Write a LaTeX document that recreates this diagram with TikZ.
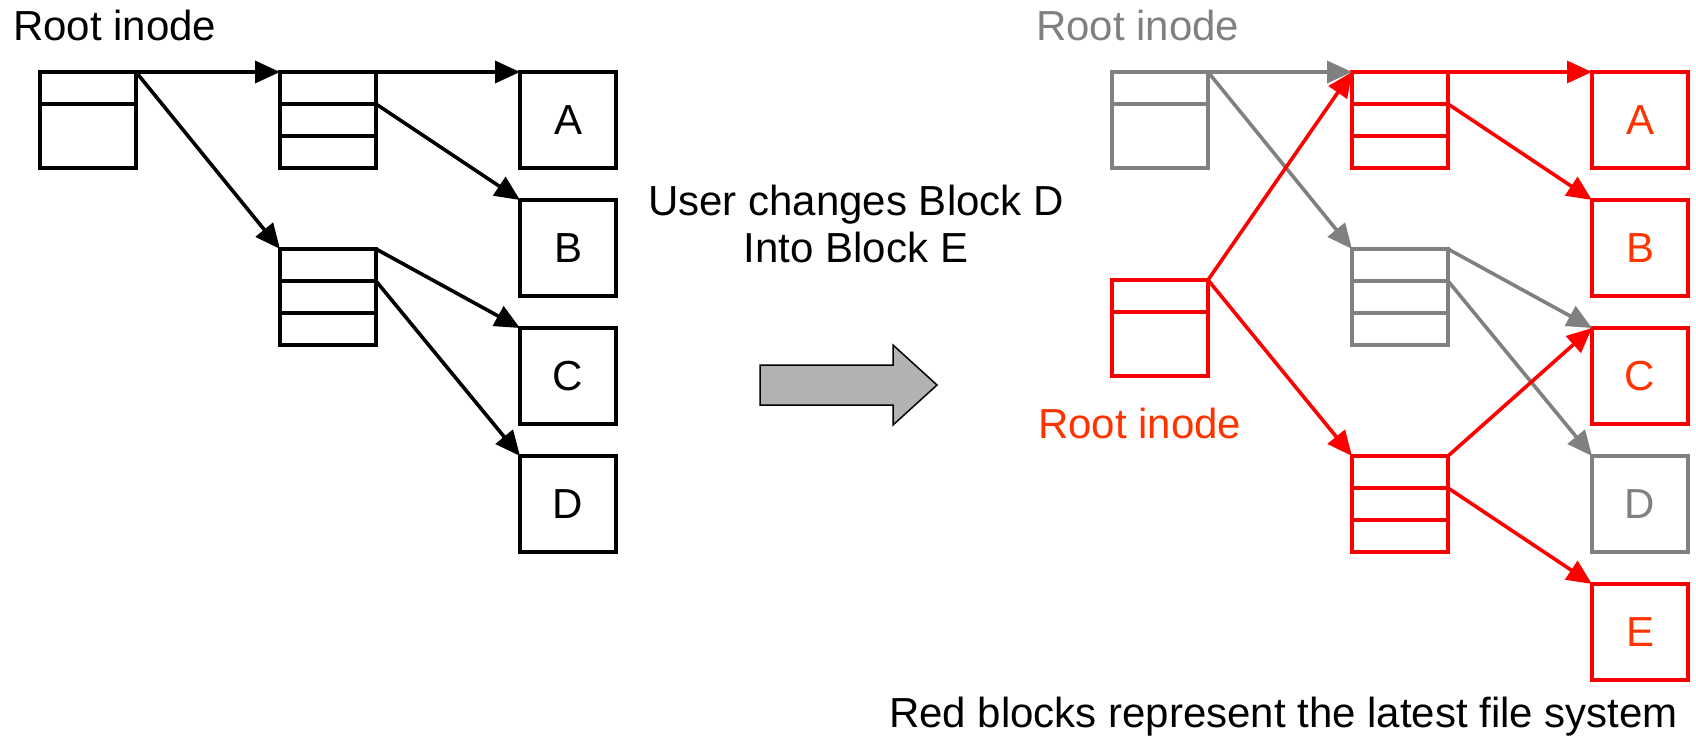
\documentclass[tikz,border=0pt]{standalone}
\usepackage{fontspec}
\setmainfont{Liberation Sans}
\usetikzlibrary{arrows.meta}
\definecolor{fsgray}{HTML}{808080}
\definecolor{fsred}{HTML}{FF0000}
\definecolor{fstext}{HTML}{FF3300}
\definecolor{fsarrow}{HTML}{B2B2B2}
\begin{document}
\begin{tikzpicture}[x=1pt,y=-1pt,
  lbl/.style={font=\fontsize{42}{47}\selectfont, inner sep=0pt, outer sep=0pt},
  box/.style={draw, line width=3.8pt, minimum width=96pt, minimum height=96pt,
    inner sep=0pt, outer sep=0pt, anchor=north west, font=\fontsize{42}{47}\selectfont},
  link/.style={line width=3.6pt, -{Triangle[length=25pt,width=22pt]}},
  divider/.style={line width=3.8pt},
  old/.style={draw=fsgray, text=fsgray},
  new/.style={draw=fsred, text=fstext},
]
\useasboundingbox (0,0) rectangle (1696,736);

% ---------- left: before ----------
\node[lbl, anchor=base west] (lroot) at (13,40) {Root inode};
\node[box] (r1) at (40,72) {};
\node[box] (m1) at (280,72) {};
\node[box] (m2) at (280,249) {};
\node[box] (A) at (520,72) {A};
\node[box] (B) at (520,200) {B};
\node[box] (C) at (520,328) {C};
\node[box] (D) at (520,456) {D};
\draw[divider] ([yshift=-32pt]r1.north west) -- ([yshift=-32pt]r1.north east);
\foreach \n in {m1,m2}{
  \draw[divider] ([yshift=-32pt]\n.north west) -- ([yshift=-32pt]\n.north east);
  \draw[divider] ([yshift=-64pt]\n.north west) -- ([yshift=-64pt]\n.north east);
}
\draw[link] (r1.north east) -- (m1.north west);
\draw[link] (r1.north east) -- (m2.north west);
\draw[link] (m1.north east) -- (A.north west);
\draw[link] ([yshift=-32pt]m1.north east) -- (B.north west);
\draw[link] (m2.north east) -- (C.north west);
\draw[link] ([yshift=-32pt]m2.north east) -- (D.north west);

% ---------- middle ----------
\node[lbl, align=center, anchor=north] (msg) at (856,185.5) {User changes Block D\\Into Block E};
\draw[line width=1.5pt, fill=fsarrow, line join=miter]
  (760,365) -- (893,365) -- (893,345) -- (937,385) -- (893,425) -- (893,405) -- (760,405) -- cycle;

% ---------- right: after ----------
\node[lbl, anchor=base west, text=fsgray] (groot) at (1036,40) {Root inode};
\node[lbl, anchor=base west, text=fstext] (rroot) at (1038,438) {Root inode};
\node[box, old] (gr) at (1112,72) {};
\node[box, old] (gm2) at (1352,249) {};
\node[box, old] (gD) at (1592,456) {D};
\node[box, new] (rr) at (1112,280) {};
\node[box, new] (rm1) at (1352,72) {};
\node[box, new] (rm3) at (1352,456) {};
\node[box, new] (rA) at (1592,72) {A};
\node[box, new] (rB) at (1592,200) {B};
\node[box, new] (rC) at (1592,328) {C};
\node[box, new] (rE) at (1592,584) {E};
\draw[divider, fsgray] ([yshift=-32pt]gr.north west) -- ([yshift=-32pt]gr.north east);
\draw[divider, fsred] ([yshift=-32pt]rr.north west) -- ([yshift=-32pt]rr.north east);
\foreach \n/\c in {gm2/fsgray,rm1/fsred,rm3/fsred}{
  \draw[divider, \c] ([yshift=-32pt]\n.north west) -- ([yshift=-32pt]\n.north east);
  \draw[divider, \c] ([yshift=-64pt]\n.north west) -- ([yshift=-64pt]\n.north east);
}
% old links
\draw[link, fsgray] (gr.north east) -- (rm1.north west);
\draw[link, fsgray] (gr.north east) -- (gm2.north west);
\draw[link, fsgray] (gm2.north east) -- (rC.north west);
\draw[link, fsgray] ([yshift=-32pt]gm2.north east) -- (gD.north west);
% new links
\draw[link, fsred] (rr.north east) -- (rm1.north west);
\draw[link, fsred] (rr.north east) -- (rm3.north west);
\draw[link, fsred] (rm1.north east) -- (rA.north west);
\draw[link, fsred] ([yshift=-32pt]rm1.north east) -- (rB.north west);
\draw[link, fsred] (rm3.north east) -- (rC.north west);
\draw[link, fsred] ([yshift=-32pt]rm3.north east) -- (rE.north west);

\node[lbl, anchor=base west] (note) at (889,727) {Red blocks represent the latest file system};
\end{tikzpicture}
\end{document}
